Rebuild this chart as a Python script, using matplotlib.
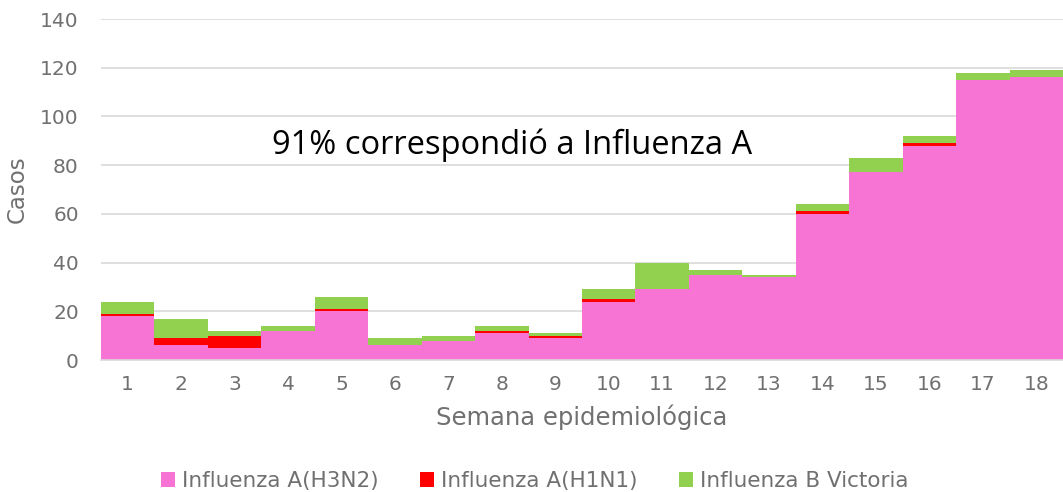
import numpy as np
import matplotlib.pyplot as plt

# ---------------* data *----------------------
semanas = list(range(1, 19))
h3n2 = [18, 6, 5, 12, 20, 6, 8, 11, 9, 24, 29, 35, 34, 60, 77, 88, 115, 116]
h1n1 = [1, 3, 5, 0, 1, 0, 0, 1, 1, 1, 0, 0, 0, 1, 0, 1, 0, 0]
b_victoria = [5, 8, 2, 2, 5, 3, 2, 2, 1, 4, 11, 2, 1, 3, 6, 3, 3, 3]
series = ["Influenza A(H3N2)", "Influenza A(H1N1)", "Influenza B Victoria"]
colores = ["#F774D4", "#FF0000", "#92D050"]

gris = "#707070"
plt.rcParams["font.family"] = ["DejaVu Sans"]

fig = plt.figure(figsize=(10.63, 4.92), dpi=100)
ax = fig.add_axes([101 / 1063, 1 - 360 / 492, 962 / 1063, 341 / 492])

# ---------------* stacked bars (no gaps) *----------------------
x = np.array(semanas)
bottom = np.zeros(len(x))
handles = []
for vals, nombre, c in zip([h3n2, h1n1, b_victoria], series, colores):
    h = ax.bar(x, vals, width=1.0, bottom=bottom, color=c, label=nombre,
               linewidth=0, zorder=2)
    handles.append(h)
    bottom += np.array(vals)

ax.set_xlim(0.5, 18.5)
ax.set_ylim(0, 140)
ax.set_yticks(range(0, 141, 20))
ax.set_xticks(x)
ax.grid(axis="y", color="#d9d9d9", linewidth=1.2, zorder=0)
ax.set_axisbelow(True)
for s in ["top", "right", "left"]:
    ax.spines[s].set_visible(False)
ax.spines["bottom"].set_color("#d9d9d9")
ax.spines["bottom"].set_linewidth(1.2)
ax.tick_params(length=0, colors=gris, labelsize=14.5)
ax.tick_params(axis="x", pad=11)
ax.tick_params(axis="y", pad=16)

ax.set_xlabel("Semana epidemiológica", color=gris, fontsize=17.5, labelpad=7)
ax.set_ylabel("Casos", color=gris, fontsize=16.5, labelpad=8)

ax.text(0.427, 0.63, "91% correspondió a Influenza A", transform=ax.transAxes,
        ha="center", va="center", fontsize=23.5, color="black", family="Open Sans")

fig.legend(handles=handles, labels=series, loc="center", ncol=3,
           bbox_to_anchor=(0.503, 0.022), frameon=False, fontsize=15.5,
           labelcolor=gris, handlelength=0.65, handleheight=0.65,
           handletextpad=0.35, columnspacing=1.9)

fig.savefig("out.png", dpi=100)
